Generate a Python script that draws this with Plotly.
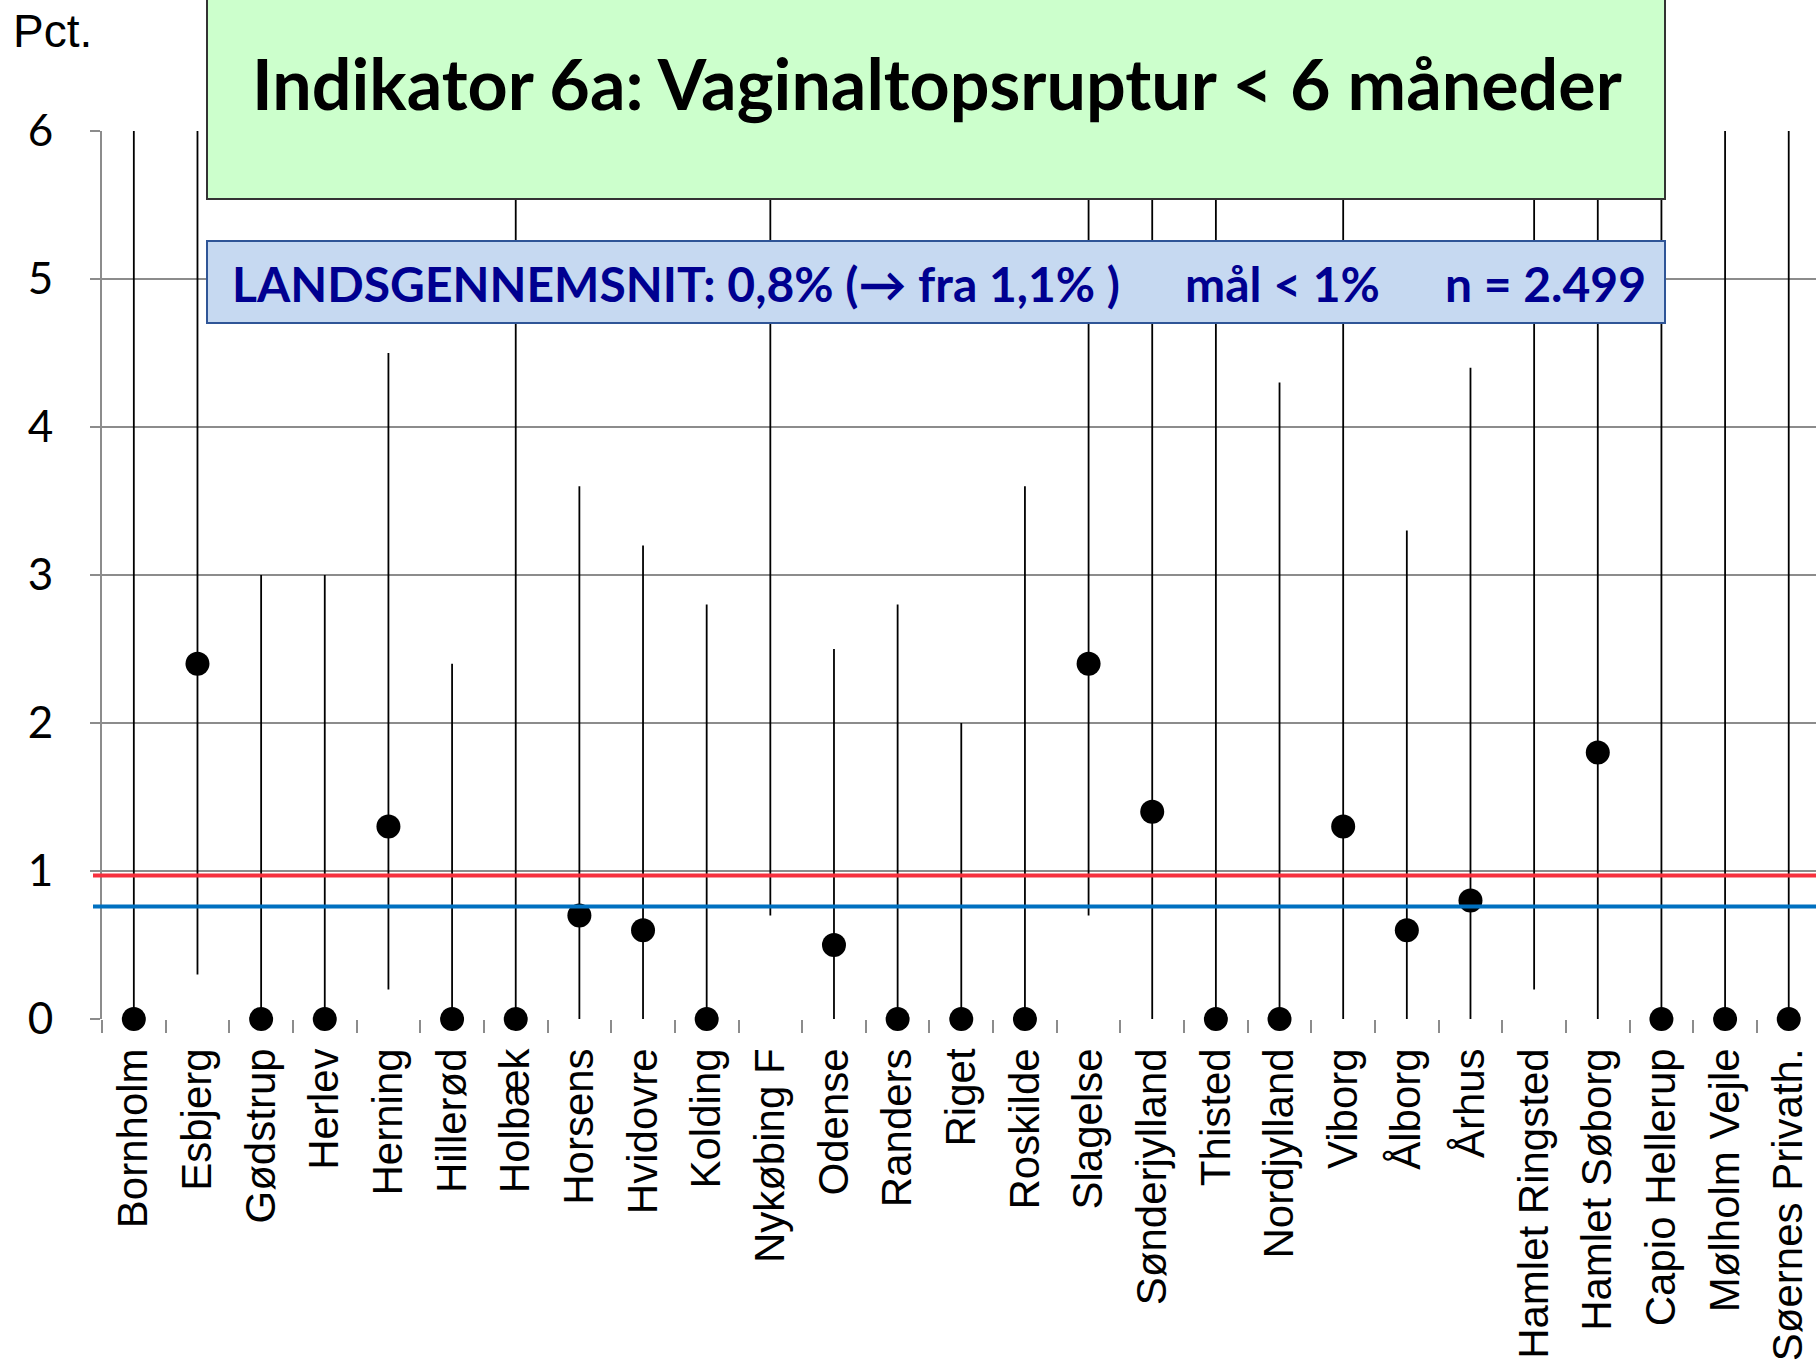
import plotly.graph_objects as go

categories = ["Bornholm", "Esbjerg", "Gødstrup", "Herlev", "Herning", "Hillerød", "Holbæk",
              "Horsens", "Hvidovre", "Kolding", "Nykøbing F", "Odense", "Randers", "Riget",
              "Roskilde", "Slagelse", "Sønderjylland", "Thisted", "Nordjylland", "Viborg",
              "Ålborg", "Århus", "Hamlet Ringsted", "Hamlet Søborg", "Capio Hellerup",
              "Mølholm Vejle", "Søernes Privath."]
rate = [0, 2.4, 0, 0, 1.3, 0, 0, 0.7, 0.6, 0, None, 0.5, 0, 0, 0, 2.4, 1.4, 0, 0, 1.3,
        0.6, 0.8, None, 1.8, 0, 0, 0]
lower = [0, 0.3, 0, 0, 0.2, 0, 0, 0, 0, 0, 0.7, 0, 0, 0, 0, 0.7, 0, 0, 0, 0,
         0, 0, 0.2, 0, 0, 0, 0]
upper = [16.8, 9.0, 3.0, 3.0, 4.5, 2.4, 9.5, 3.6, 3.2, 2.8, 8.0, 2.5, 2.8, 2.0, 3.6, 8.5,
         6.5, 8.0, 4.3, 6.5, 3.3, 4.4, 9.0, 7.0, 12.0, 20.0, 25.0]
goal = 0.97
national = 0.76
yticks = [0, 1, 2, 3, 4, 5, 6]

title_text = "Indikator 6a: Vaginaltopsruptur < 6 måneder"
info_parts = ["LANDSGENNEMSNIT: 0,8% (→ fra 1,1% )", "mål < 1%", "n = 2.499"]

W, H = 1816, 1363
L = 102
T = 131
BOTTOM = 1019
B = H - BOTTOM
PW = W - L
PH = BOTTOM - T

def px(xs):
    return (xs - L) / PW

def py(ys):
    return (BOTTOM - ys) / PH

# whiskers
wx, wy = [], []
for c, lo, hi in zip(categories, lower, upper):
    wx += [c, c, None]
    wy += [lo, hi, None]

fig = go.Figure()
fig.add_trace(go.Scatter(x=wx, y=wy, mode="lines", line=dict(color="black", width=1.8),
                         hoverinfo="skip", showlegend=False))
fig.add_trace(go.Scatter(x=categories, y=rate, mode="markers",
                         marker=dict(color="black", size=24), cliponaxis=False,
                         showlegend=False))

shapes = [
    dict(type="line", xref="paper", yref="y", x0=px(93), x1=1.0, y0=goal, y1=goal,
         line=dict(color="#F7303E", width=4), layer="above"),
    dict(type="line", xref="paper", yref="y", x0=px(93), x1=1.0, y0=national, y1=national,
         line=dict(color="#0070C0", width=4), layer="above"),
    dict(type="rect", xref="paper", yref="paper", x0=px(207), x1=px(1665), y0=py(199), y1=py(-5),
         fillcolor="#CCFFCC", line=dict(color="#333333", width=2), layer="above"),
    dict(type="rect", xref="paper", yref="paper", x0=px(207), x1=px(1665), y0=py(323), y1=py(241),
         fillcolor="#C6D9F1", line=dict(color="#2F5597", width=2), layer="above"),
]

annotations = [
    dict(text="<b>" + title_text + "</b>", xref="paper", yref="paper", x=px(937), y=py(83),
         xanchor="center", yanchor="middle", showarrow=False,
         font=dict(family="Lato", size=70, color="black")),
    dict(text="<b>" + info_parts[0] + "</b>", xref="paper", yref="paper", x=px(230), y=py(283),
         xanchor="left", yanchor="middle", showarrow=False,
         font=dict(family="Lato", size=48, color="#000090")),
    dict(text="<b>" + info_parts[1] + "</b>", xref="paper", yref="paper", x=px(1183), y=py(283),
         xanchor="left", yanchor="middle", showarrow=False,
         font=dict(family="Lato", size=48, color="#000090")),
    dict(text="<b>" + info_parts[2] + "</b>", xref="paper", yref="paper", x=px(1443), y=py(283),
         xanchor="left", yanchor="middle", showarrow=False,
         font=dict(family="Lato", size=48, color="#000090")),
    dict(text="Pct.", xref="paper", yref="paper", x=px(11), y=py(31),
         xanchor="left", yanchor="middle", showarrow=False,
         font=dict(family="Liberation Sans", size=46, color="black")),
]

fig.update_layout(
    width=W, height=H,
    margin=dict(l=L, r=0, t=T, b=B, pad=0),
    paper_bgcolor="white", plot_bgcolor="white",
    shapes=shapes, annotations=annotations,
    xaxis=dict(type="category", categoryorder="array", categoryarray=categories,
               range=[-0.5, -0.5 + PW / 63.65], tickson="boundaries",
               ticks="outside", ticklen=13, tickwidth=2, tickcolor="#8C8C8C",
               showgrid=False, showline=False, zeroline=False, tickangle=-90,
               tickfont=dict(family="Liberation Sans", size=42, color="black"),
               ticklabelstandoff=20, fixedrange=True),
    yaxis=dict(range=[0, 6], tickvals=yticks, ticktext=[str(v) for v in yticks],
               ticks="outside", ticklen=10, tickwidth=2, tickcolor="#8C8C8C",
               showgrid=True, gridcolor="#8C8C8C", gridwidth=2,
               showline=True, linecolor="#8C8C8C", linewidth=2, zeroline=False,
               tickfont=dict(family="Lato", size=44, color="black"),
               ticklabelstandoff=28, fixedrange=True),
)

fig.write_html("out.html", config={"displayModeBar": False},
               post_script="document.body.style.margin='0';document.body.style.overflow='hidden';")
